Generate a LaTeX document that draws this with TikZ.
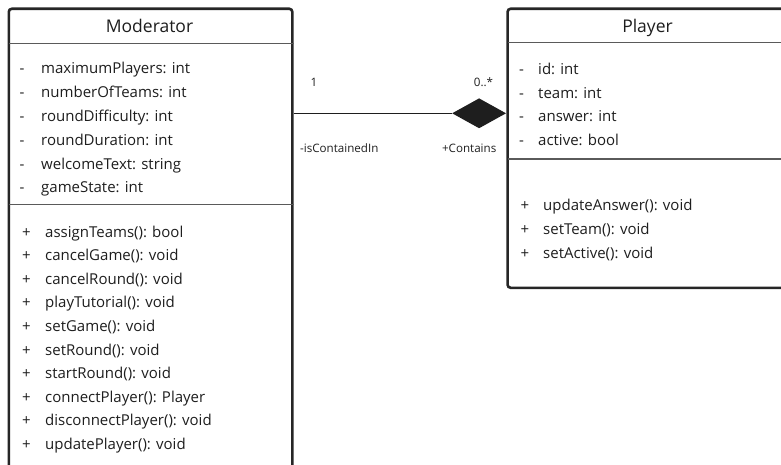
\documentclass[tikz,border=0pt]{standalone}
\usepackage{fontspec}
\setmainfont{Open Sans}
\usetikzlibrary{shapes.geometric}
\definecolor{ink}{HTML}{1E1E1E}
\definecolor{frame}{HTML}{262626}
\definecolor{rule}{HTML}{5A5A5A}
\begin{document}
\begin{tikzpicture}[x=1pt,y=-1pt,
  classbox/.style={draw=frame, line width=2.6pt, rounded corners=3pt, fill=white,
    anchor=north west, inner sep=0pt},
  divider/.style={draw=rule, line width=1.3pt},
  title/.style={font=\fontsize{17.5}{20}\selectfont, text=ink, anchor=base},
  member/.style={font=\fontsize{15}{17}\selectfont, text=ink, anchor=base west, inner sep=0pt},
  vis/.style={font=\fontsize{15}{17}\selectfont, text=ink, anchor=base, inner sep=0pt},
  rolelabel/.style={font=\fontsize{11.6}{13}\selectfont, text=ink, anchor=base, inner sep=0pt},
  link/.style={draw=ink, line width=1.1pt}]
\useasboundingbox (0,0) rectangle (781,465);
\clip (0,0) rectangle (781,465);

% Moderator class (runs past the lower edge)
\node[classbox, minimum width=283.5pt, minimum height=520pt] (mod) at (7.5,7.5) {};
\node[title] (modt) at (149.5,33) {Moderator};
\draw[divider] (mod.north west) ++(1.3,35.7) coordinate (md1a) -- (mod.north east |- md1a) coordinate (md1b);
\draw[divider] (mod.north west) ++(1.3,197.3) coordinate (md2a) -- (mod.north east |- md2a) coordinate (md2b);

\foreach \t [count=\i] in {maximumPlayers: int, numberOfTeams: int, roundDifficulty: int,
    roundDuration: int, welcomeText: string, gameState: int} {
  \node[vis] (mam\i) at (22,74+23.8*\i-23.8) {-};
  \node[member] (ma\i) at (41,74+23.8*\i-23.8) {\t};
}
\foreach \t [count=\i] in {assignTeams(): bool, cancelGame(): void, cancelRound(): void,
    playTutorial(): void, setGame(): void, setRound(): void, startRound(): void,
    connectPlayer(): Player, disconnectPlayer(): void, updatePlayer(): void} {
  \node[vis] (mmm\i) at (26.5,237+23.6*\i-23.6) {+};
  \node[member] (mm\i) at (45,237+23.6*\i-23.6) {\t};
}

% Player class (runs past the right edge)
\node[classbox, minimum width=284pt, minimum height=279pt] (pl) at (506.3,7.5) {};
\node[title] (plt) at (647.5,33) {Player};
\draw[divider] (pl.north west) ++(1.3,35.3) coordinate (pd1a) -- (pl.north east |- pd1a) coordinate (pd1b);
\draw[divider] (pl.north west) ++(1.3,151.5) coordinate (pd2a) -- (pl.north east |- pd2a) coordinate (pd2b);

\foreach \t [count=\i] in {id: int, team: int, answer: int, active: bool} {
  \node[vis] (pam\i) at (521.5,75+23.4*\i-23.4) {-};
  \node[member] (pa\i) at (538,75+23.4*\i-23.4) {\t};
}
\foreach \t [count=\i] in {updateAnswer(): void, setTeam(): void, setActive(): void} {
  \node[vis] (pmm\i) at (525,211+23.7*\i-23.7) {+};
  \node[member] (pm\i) at (543,211+23.7*\i-23.7) {\t};
}

% Composition: Player instances contained in Moderator
\path (mod.north east) ++(0,105.8) coordinate (mport);
\path (pl.north west) ++(0,105.8) coordinate (pport);
\node[diamond, fill=ink, draw=none, minimum width=54pt, minimum height=30pt,
  inner sep=0pt, anchor=east] (dia) at (pport) {};
\draw[link] (mport) -- (dia.west);

\node[rolelabel] (m1) at (314,86.5) {1};
\node[rolelabel] (m2) at (483.5,86.5) {0..*};
\node[rolelabel] (r1) at (339.3,152.5) {-isContainedIn};
\node[rolelabel] (r2) at (469.2,152.5) {+Contains};
\end{tikzpicture}
\end{document}
